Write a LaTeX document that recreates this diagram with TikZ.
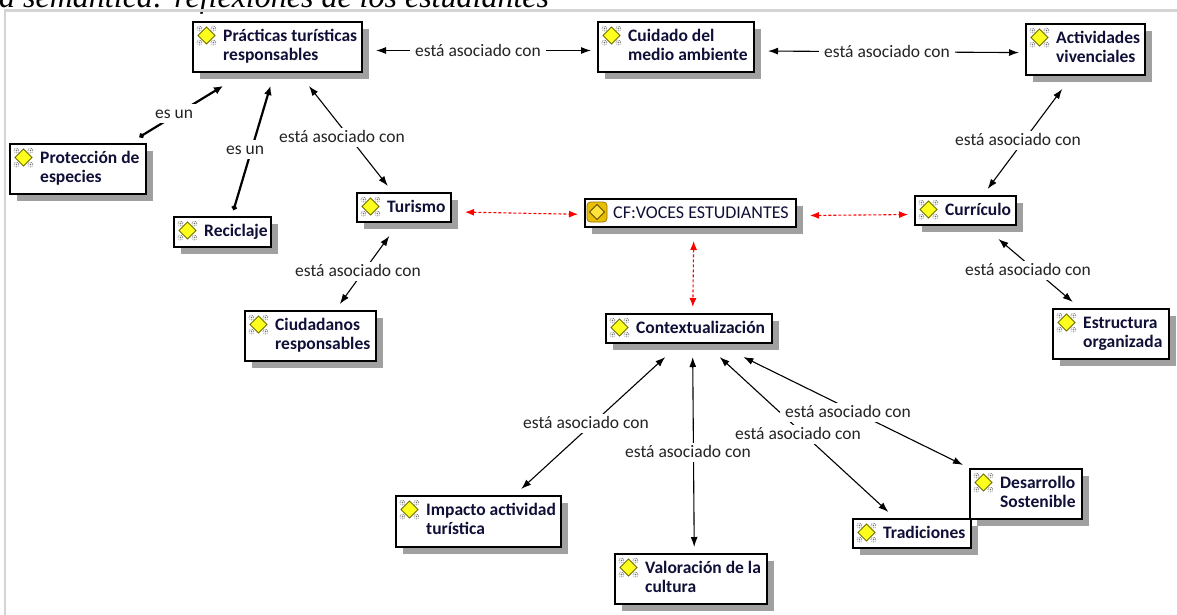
\documentclass[tikz,border=0pt]{standalone}
\usepackage{fontspec}
\setmainfont{Carlito}
\newfontfamily\titlefont{Liberation Serif}
\usetikzlibrary{arrows.meta,shadows,calc}

\definecolor{shgray}{RGB}{160,160,160}
\definecolor{framegray}{RGB}{212,212,212}
\definecolor{navy}{RGB}{15,15,55}
\definecolor{lblgray}{RGB}{35,35,35}
\definecolor{dyellow}{RGB}{255,255,30}
\definecolor{dolive}{RGB}{110,110,0}
\definecolor{gearg}{RGB}{110,110,110}
\definecolor{gold}{RGB}{232,190,0}
\definecolor{golddark}{RGB}{150,118,0}
\definecolor{goldin}{RGB}{255,228,60}
\definecolor{goldline}{RGB}{95,75,0}

\tikzset{
  cbox/.style={draw=black, fill=white, line width=1.4pt, inner sep=0pt, outer sep=0pt,
    anchor=north west,
    drop shadow={shadow xshift=7pt, shadow yshift=-7pt, shadow scale=1, fill=shgray, opacity=1}},
  hit/.style={draw=none, fill=none, inner sep=0pt, outer sep=7pt},
  ctext/.style={inner sep=0pt, anchor=base west, text=navy, font=\fontsize{17.5}{19}\selectfont\bfseries},
  cftext/.style={inner sep=0pt, anchor=base west, text=navy, font=\fontsize{18}{19}\selectfont},
  lbl/.style={fill=white, text=lblgray, font=\fontsize{17.5}{19}\selectfont,
    inner xsep=5pt, inner ysep=4pt, text height=11pt, text depth=0pt},
  conn/.style={line width=1.1pt, {Latex[length=10pt,width=7pt]}-{Latex[length=10pt,width=7pt]}},
  isa/.style={line width=2.2pt, {Circle[length=5pt]}-{Latex[length=9pt,width=8pt]}},
  redlink/.style={red, line width=1.1pt, dash pattern=on 3pt off 2pt,
    {Latex[length=9pt,width=7pt]}-{Latex[length=9pt,width=7pt]}},
  cicon/.pic={
    \foreach \dx/\dy in {-7/-7,7/-7,-7/7,7/7}{
      \draw[gearg, line width=0.7pt, densely dotted] (\dx,\dy) circle[radius=2.4];
      \fill[gearg] (\dx,\dy) circle[radius=0.8];
    }
    \draw[dolive, fill=dyellow, line width=0.8pt] (-8.5,0) -- (0,-8.5) -- (8.5,0) -- (0,8.5) -- cycle;
  },
  cficon/.pic={
    \draw[rounded corners=3.5pt, fill=gold, draw=golddark, line width=0.7pt] (-10,-10) rectangle (10,10);
    \draw[line width=1pt, draw=goldline, fill=goldin] (-7.5,0) -- (0,-7.5) -- (7.5,0) -- (0,7.5) -- cycle;
  }
}

\newcommand\conceptI[6]{%
  \node[cbox, minimum width=#4pt, minimum height=#5pt] (#1) at (#2,#3) {};
  \node[hit, minimum width={#4pt+7pt}, minimum height={#5pt+7pt}] (#1s) at ($(#1.center)+(3.5,3.5)$) {};
  \pic at ($(#1.north west)+(13.5,13.5)$) {cicon};
  \node[ctext] (#1t) at ($(#1.north west)+(30,19)$) {#6};
}
\newcommand\conceptII[7]{%
  \node[cbox, minimum width=#4pt, minimum height=#5pt] (#1) at (#2,#3) {};
  \node[hit, minimum width={#4pt+7pt}, minimum height={#5pt+7pt}] (#1s) at ($(#1.center)+(3.5,3.5)$) {};
  \pic at ($(#1.north west)+(13.5,13.5)$) {cicon};
  \node[ctext] (#1t) at ($(#1.north west)+(30,19)$) {#6};
  \node[ctext] (#1u) at ($(#1.north west)+(30,38)$) {#7};
}

\begin{document}
\begin{tikzpicture}[x=1pt, y=-1pt]
\useasboundingbox (0,0) rectangle (1177,614);
\fill[white] (0,0) rectangle (1177,614);

% caption (cut off at the top, as in the source)
\node[anchor=base west, inner sep=0pt, font=\titlefont\itshape\fontsize{32}{36}\selectfont] (title) at (-1,7) {a semántica: reflexiones de los estudiantes};

% frame
\draw[framegray, line width=2.5pt] (5,640) -- (5,10.5) -- (1200,10.5);

% concepts
\conceptII{prac}{193}{22}{169}{50}{Prácticas turísticas}{responsables}
\conceptII{cuid}{598}{22}{156}{50}{Cuidado del}{medio ambiente}
\conceptII{acti}{1026}{24}{119}{51}{Actividades}{vivenciales}
\conceptII{prot}{10}{144}{136}{50}{Protección de}{especies}
\conceptI{reci}{174}{217}{97}{30}{Reciclaje}
\conceptI{turi}{357}{193}{94}{29}{Turismo}
\conceptI{curr}{915}{196}{101}{29}{Currículo}
\conceptII{ciud}{245}{311}{131}{50}{Ciudadanos}{responsables}
\conceptII{estr}{1053}{309}{116}{50}{Estructura}{organizada}
\conceptI{cont}{606}{314}{166}{29}{Contextualización}
\conceptII{impa}{396}{496}{165}{51}{Impacto actividad}{turística}
\conceptII{valo}{615}{554}{152}{50}{Valoración de la}{cultura}
\conceptII{desa}{970}{469}{112}{50}{Desarrollo}{Sostenible}
\conceptI{trad}{853}{519}{118}{29}{Tradiciones}

% core code
\node[cbox, minimum width=211pt, minimum height=28pt] (cf) at (585,199) {};
\node[hit, minimum width=218pt, minimum height=35pt] (cfs) at ($(cf.center)+(3.5,3.5)$) {};
\pic at ($(cf.north west)+(12,13)$) {cficon};
\node[cftext] (cft) at ($(cf.north west)+(28,19)$) {CF:VOCES ESTUDIANTES};

% connectors
\draw[conn] (pracs) -- (cuids);
\draw[conn] (cuids) -- (actis);
\draw[isa] (prots) -- (pracs);
\draw[isa] (recis) -- (pracs);
\draw[conn] (pracs) -- (turis);
\draw[conn] (turis) -- (ciuds);
\draw[redlink] (turis) -- (cfs);
\draw[redlink] (cfs) -- (currs);
\draw[redlink] (cfs) -- (conts);
\draw[conn] (actis) -- (currs);
\draw[conn] (currs) -- (estrs);
\draw[conn] (conts) -- (impas);
\draw[conn] (conts) -- (valos);
\draw[conn] (conts) -- (trads);
\draw[conn] (conts) -- (desas);

% link labels
\node[lbl] (l1) at (478,51) {está asociado con};
\node[lbl] (l2) at (887,52) {está asociado con};
\node[lbl] (l3) at (174,113) {es un};
\node[lbl] (l4) at (245,149) {es un};
\node[lbl] (l5) at (342,137) {está asociado con};
\node[lbl] (l6) at (358,271) {está asociado con};
\node[lbl] (l7) at (1018,140) {está asociado con};
\node[lbl] (l8) at (1028,270) {está asociado con};
\node[lbl] (l9) at (586,423) {está asociado con};
\node[lbl] (l10) at (688,452) {está asociado con};
\node[lbl] (l12) at (848,412) {está asociado con};
\node[lbl] (l11) at (798,434) {está asociado con};
\end{tikzpicture}
\end{document}
